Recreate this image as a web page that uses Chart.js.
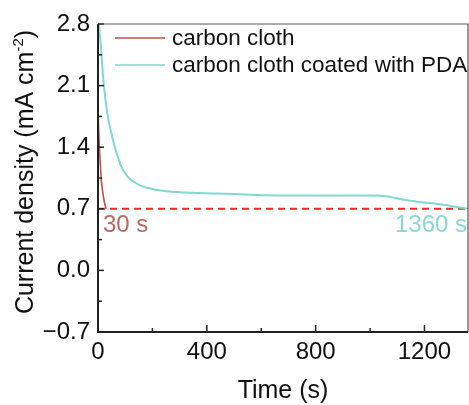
<!DOCTYPE html>
<html>
<head>
<meta charset="utf-8">
<script src="https://cdn.jsdelivr.net/npm/chart.js@4.4.1/dist/chart.umd.min.js"></script>
<style>
  html, body { margin: 0; padding: 0; background: #fff; }
  #wrap { width: 469px; height: 405px; }
</style>
</head>
<body>
<div id="wrap"><canvas id="chart" width="469" height="405"></canvas></div>
<script>
// chronoamperometry curves: time (s) vs current density (mA cm^-2)
const clothTime = [0, 1, 3, 5, 9, 13, 18, 22, 26, 30];
const clothCurrent = [2.28, 1.77, 1.55, 1.40, 1.18, 1.00, 0.88, 0.80, 0.74, 0.70];

const pdaTime = [3, 11, 20, 35, 50, 62, 75, 87, 105, 129, 160, 191, 252, 374, 484, 619, 790, 900, 1000, 1040, 1065, 1090, 1130, 1169, 1231, 1292, 1330, 1360];
const pdaCurrent = [2.80, 2.53, 2.15, 1.77, 1.55, 1.40, 1.27, 1.17, 1.08, 1.01, 0.96, 0.93, 0.90, 0.88, 0.87, 0.855, 0.85, 0.85, 0.85, 0.848, 0.84, 0.825, 0.80, 0.782, 0.763, 0.735, 0.715, 0.70];

// threshold line and the times where each curve reaches it
const thresholdTime = [0, 1360];
const thresholdLevel = [0.7, 0.7];
const crossLabels = ["30 s", "1360 s"];

const seriesNames = ["carbon cloth", "carbon cloth coated with PDA"];
const xTicks = [0, 200, 400, 600, 800, 1000, 1200];
const yTicks = [-0.7, -0.35, 0, 0.35, 0.7, 1.05, 1.4, 1.75, 2.1, 2.45, 2.8];

const RED = "#c0504d";
const CYAN = "#80d9d0";
const FONT = "'Liberation Sans', Arial, sans-serif";

const toPoints = (xs, ys) => xs.map((x, i) => ({ x: x, y: ys[i] }));
const isMajor = (v, step) => Math.abs(Math.round(v / step) * step - v) < 1e-6;

// frame, inward ticks, titles, legend and crossing labels
const decorations = {
    id: "decorations",
    afterDatasetsDraw(chart) {
        const { ctx, chartArea: a, scales } = chart;
        const xs = scales.x, ys = scales.y;
        ctx.save();

        // inward ticks on the left and bottom axes
        ctx.strokeStyle = "#222";
        ctx.lineWidth = 1.5;
        xTicks.forEach((v) => {
            const px = xs.getPixelForValue(v);
            const len = isMajor(v, 400) ? 7 : 4;
            ctx.beginPath();
            ctx.moveTo(px, a.bottom);
            ctx.lineTo(px, a.bottom - len);
            ctx.stroke();
        });
        yTicks.forEach((v) => {
            const py = ys.getPixelForValue(v);
            const len = isMajor(v, 0.7) ? 6 : 4;
            ctx.beginPath();
            ctx.moveTo(a.left, py);
            ctx.lineTo(a.left + len, py);
            ctx.stroke();
        });

        // frame
        ctx.strokeStyle = "#555";
        ctx.lineWidth = 1.2;
        ctx.beginPath();
        ctx.moveTo(a.left, a.top);
        ctx.lineTo(a.right, a.top);
        ctx.lineTo(a.right, a.bottom);
        ctx.stroke();
        ctx.strokeStyle = "#222";
        ctx.lineWidth = 2;
        ctx.beginPath();
        ctx.moveTo(a.left, a.top);
        ctx.lineTo(a.left, a.bottom);
        ctx.lineTo(a.right, a.bottom);
        ctx.stroke();

        // x title
        ctx.fillStyle = "#111";
        ctx.font = "25px " + FONT;
        ctx.textAlign = "center";
        ctx.textBaseline = "alphabetic";
        ctx.fillText("Time (s)", (a.left + a.right) / 2, 398);

        // y title with superscript
        const main = "Current density (mA cm";
        const sup = "-2";
        const tail = ")";
        ctx.font = "25px " + FONT;
        const wMain = ctx.measureText(main).width;
        const wTail = ctx.measureText(tail).width;
        ctx.font = "15px " + FONT;
        const wSup = ctx.measureText(sup).width;
        const total = wMain + wSup + wTail;
        ctx.translate(33, (a.top + a.bottom) / 2 - 6);
        ctx.rotate(-Math.PI / 2);
        ctx.textAlign = "left";
        let cx = -total / 2;
        ctx.font = "25px " + FONT;
        ctx.fillText(main, cx, 0);
        cx += wMain;
        ctx.font = "15px " + FONT;
        ctx.fillText(sup, cx, -10);
        cx += wSup;
        ctx.font = "25px " + FONT;
        ctx.fillText(tail, cx, 0);
        ctx.setTransform(1, 0, 0, 1, 0, 0);

        // legend
        ctx.font = "22.5px " + FONT;
        ctx.textBaseline = "middle";
        ctx.textAlign = "left";
        [0, 1].forEach((i) => {
            const ds = chart.data.datasets[i];
            const ly = a.top + 14 + i * 27;
            ctx.strokeStyle = ds.borderColor;
            ctx.lineWidth = 1.5;
            ctx.beginPath();
            ctx.moveTo(a.left + 17, ly);
            ctx.lineTo(a.left + 67, ly);
            ctx.stroke();
            ctx.fillStyle = "#111";
            ctx.fillText(ds.label, a.left + 74, ly + 1);
        });

        // crossing time labels under the threshold line
        const baseY = ys.getPixelForValue(thresholdLevel[0]) + 23;
        ctx.font = "24px " + FONT;
        ctx.textBaseline = "alphabetic";
        ctx.fillStyle = "#c06660";
        ctx.textAlign = "left";
        ctx.fillText(crossLabels[0], xs.getPixelForValue(thresholdTime[0]) + 5, baseY);
        ctx.fillStyle = "#86d9d1";
        ctx.textAlign = "right";
        ctx.fillText(crossLabels[1], xs.getPixelForValue(thresholdTime[1]) - 1, baseY);

        ctx.restore();
    },
};

new Chart(document.getElementById("chart"), {
    type: "line",
    data: {
        datasets: [
            {
                label: seriesNames[0],
                data: toPoints(clothTime, clothCurrent),
                borderColor: RED,
                borderWidth: 1.6,
                pointRadius: 0,
                cubicInterpolationMode: "monotone",
            },
            {
                label: seriesNames[1],
                data: toPoints(pdaTime, pdaCurrent),
                borderColor: CYAN,
                borderWidth: 2,
                pointRadius: 0,
                cubicInterpolationMode: "monotone",
            },
            {
                label: "threshold",
                data: toPoints(thresholdTime, thresholdLevel),
                borderColor: "#ff2020",
                borderWidth: 2,
                borderDash: [7, 5],
                pointRadius: 0,
            },
        ],
    },
    options: {
        responsive: false,
        animation: false,
        events: [],
        layout: { padding: { top: 24, right: 1, left: 0, bottom: 0 } },
        plugins: {
            legend: { display: false },
            tooltip: { enabled: false },
        },
        scales: {
            x: {
                type: "linear",
                min: 0,
                max: 1360,
                afterBuildTicks: (scale) => {
                    scale.ticks = xTicks.map((v) => ({ value: v }));
                },
                afterFit: (scale) => {
                    scale.height = 73;
                },
                ticks: {
                    autoSkip: false,
                    maxRotation: 0,
                    padding: 6,
                    color: "#111",
                    font: { family: FONT, size: 24 },
                    callback: (v) => (isMajor(v, 400) ? String(v) : ""),
                },
                grid: { display: false, drawTicks: false },
                border: { display: false },
            },
            y: {
                type: "linear",
                min: -0.7,
                max: 2.8,
                afterBuildTicks: (scale) => {
                    scale.ticks = yTicks.map((v) => ({ value: v }));
                },
                afterFit: (scale) => {
                    scale.width = 98;
                },
                ticks: {
                    autoSkip: false,
                    padding: 8,
                    color: "#111",
                    font: { family: FONT, size: 24 },
                    callback: (v) => {
                        if (!isMajor(v, 0.7)) return "";
                        const s = Math.abs(v).toFixed(1);
                        return v < -1e-9 ? "\u2212" + s : s;
                    },
                },
                grid: { display: false, drawTicks: false },
                border: { display: false },
            },
        },
    },
    plugins: [decorations],
});
</script>
</body>
</html>
